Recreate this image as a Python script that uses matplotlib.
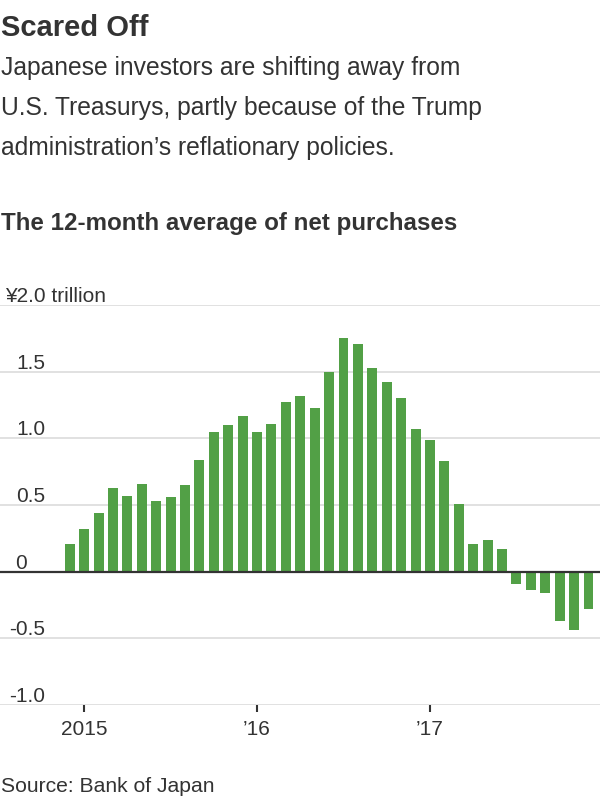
import matplotlib
matplotlib.use("Agg")
import matplotlib.pyplot as plt
import matplotlib.transforms as mtransforms

plt.rcParams['font.family'] = ['Liberation Sans Narrow', 'Liberation Sans', 'DejaVu Sans']

# 12-month average of net purchases of U.S. Treasurys, Dec 2014 - Dec 2017 (trillion yen)
months = list(range(37))
net_purchases = [0.21, 0.32, 0.44, 0.63, 0.57, 0.66, 0.53, 0.56, 0.65, 0.84,
                 1.05, 1.10, 1.17, 1.05, 1.11, 1.27, 1.32, 1.23, 1.50, 1.75,
                 1.71, 1.53, 1.42, 1.30, 1.07, 0.99, 0.83, 0.51, 0.21, 0.24,
                 0.17, -0.09, -0.14, -0.16, -0.37, -0.44, -0.28]
x_tick_pos = [1, 13, 25]
x_tick_labels = ['2015', '\u201916', '\u201917']
y_ticks = [-1.0, -0.5, 0, 0.5, 1.0, 1.5, 2.0]
y_tick_labels = ['-1.0', '-0.5', '0', '0.5', '1.0', '1.5', '\u00a52.0 trillion']

green = '#52a046'
dark = '#333333'
grid = '#dcdcdc'

fig = plt.figure(figsize=(6, 8), dpi=100)
ax = fig.add_axes([0, 0.11875, 1, 0.5])

ax.bar(months, net_purchases, width=0.69, color=green, zorder=3)
ax.set_xlim(-4.84, 36.8)
ax.set_ylim(-1.0, 2.0)

for t in y_ticks:
    if t == 0:
        ax.axhline(t, color=dark, lw=1.6, zorder=4)
    else:
        ax.axhline(t, color=grid, lw=1.2, zorder=1)

# y labels sit just above the gridlines
trans = mtransforms.offset_copy(ax.get_yaxis_transform(), fig=fig, y=3, units='dots')
for t, lab in zip(y_ticks, y_tick_labels):
    if t == 2.0:
        ax.text(5 / 600, t, lab, transform=trans, ha='left', va='baseline',
                fontsize=15, color=dark)
    else:
        xr = 45 if '.' in lab else 27
        ax.text(xr / 600, t, lab, transform=trans, ha='right', va='baseline',
                fontsize=15, color=dark)

ax.set_yticks([])
ax.set_xticks(x_tick_pos)
ax.set_xticklabels(x_tick_labels, fontsize=15, color=dark)
ax.tick_params(axis='x', length=5, width=1.5, color=dark, pad=6)
for s in ax.spines.values():
    s.set_visible(False)

def fy(px):
    return 1 - px / 800

fig.text(0.002, fy(36), 'Scared Off', fontsize=21, fontweight='bold',
         color=dark, va='baseline')
sub = ['Japanese investors are shifting away from',
       'U.S. Treasurys, partly because of the Trump',
       'administration\u2019s reflationary policies.']
for i, line in enumerate(sub):
    fig.text(0.002, fy(75 + 40 * i), line, fontsize=17.7, color=dark, va='baseline')
fig.text(0.002, fy(230), 'The 12-month average of net purchases', fontsize=17.4,
         fontweight='bold', color=dark, va='baseline')
fig.text(0.002, fy(792), 'Source: Bank of Japan', fontsize=15.2, color=dark,
         va='baseline')

fig.savefig('out.png', dpi=100, facecolor='white')
